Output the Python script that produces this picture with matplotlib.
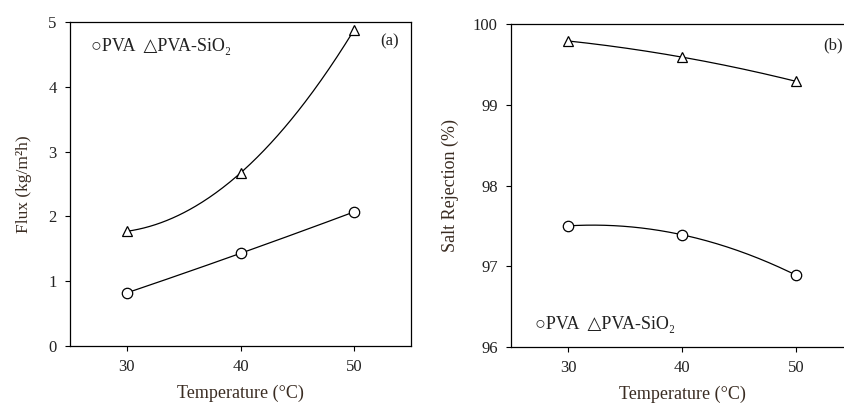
import numpy as np
import matplotlib.pyplot as plt

plt.rcParams['font.family'] = ['Liberation Serif', 'DejaVu Sans']

# data
temp = np.array([30, 40, 50])
flux_pva = np.array([0.82, 1.43, 2.07])
flux_sio2 = np.array([1.77, 2.67, 4.88])
rej_pva = np.array([97.50, 97.39, 96.89])
rej_sio2 = np.array([99.79, 99.59, 99.29])

txt = '#222222'
lab = '#3a2c22'
legtxt = '\u25cbPVA  \u25b3PVA-SiO\u2082'

fig = plt.figure(figsize=(8.44, 4.03), dpi=100)
ax1 = fig.add_axes([70/844, 57/403, 341/844, 324/403])
ax2 = fig.add_axes([511/844, 56/403, 342/844, 323/403])

tt = np.linspace(30, 50, 200)


def panel(ax, y1, y2):
    for y, m in [(y1, 'o'), (y2, '^')]:
        c = np.polyfit(temp, y, 2)
        ax.plot(tt, np.polyval(c, tt), color='k', lw=0.9)
        ax.plot(temp, y, m, mfc='white', mec='k', mew=0.9, ms=7.5, ls='none')
    ax.set_xlim(25, 55)
    ax.set_xticks([30, 40, 50])
    ax.tick_params(direction='out', length=3.5, width=0.8, labelsize=12,
                   colors='k', labelcolor=txt, pad=6)
    for s in ax.spines.values():
        s.set_linewidth(0.9)
    ax.set_xlabel('Temperature (\u00b0C)', fontsize=13, color=lab, labelpad=7)


panel(ax1, flux_pva, flux_sio2)
ax1.set_ylim(0, 5)
ax1.set_yticks(range(0, 6))
ax1.set_ylabel('Flux (kg/m\u00b2h)', fontsize=12.5, color=lab, labelpad=12)
ax1.text(0.062, 0.925, legtxt, transform=ax1.transAxes,
         fontsize=13, color=txt, va='center', ha='left')
ax1.text(0.965, 0.94, '(a)', transform=ax1.transAxes, fontsize=12,
         color=txt, ha='right', va='center')

panel(ax2, rej_pva, rej_sio2)
ax2.set_ylim(96, 100)
ax2.set_yticks(range(96, 101))
ax2.set_ylabel('Salt Rejection (%)', fontsize=13, color=lab, labelpad=10)
ax2.text(0.07, 0.07, legtxt, transform=ax2.transAxes,
         fontsize=13, color=txt, va='center', ha='left')
ax2.text(0.97, 0.935, '(b)', transform=ax2.transAxes, fontsize=12,
         color=txt, ha='right', va='center')

fig.savefig('out.png', dpi=100)
